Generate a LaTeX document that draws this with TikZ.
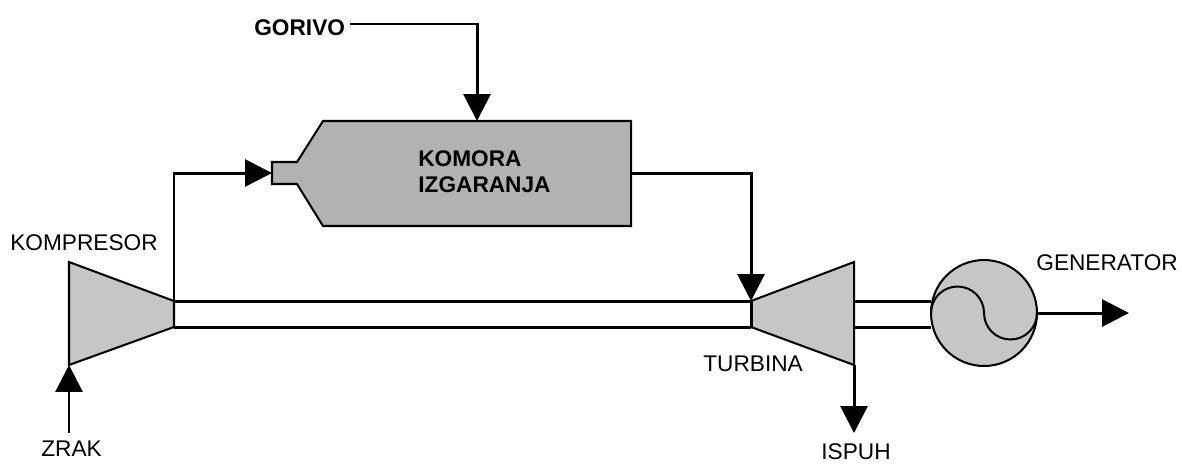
\documentclass[tikz,border=0pt]{standalone}
\usepackage{fontspec}
\setmainfont{Liberation Sans}
\definecolor{chambergray}{RGB}{178, 178, 178}
\definecolor{machinegray}{RGB}{198, 198, 198}
\usetikzlibrary{arrows.meta}
\tikzset{
  pipe/.style={line width=1.7pt, line join=miter},
  flow/.style={pipe, -{Triangle[length=15.3pt, width=15.3pt]}},
  outline/.style={draw, line width=1.15pt, line join=miter},
  label/.style={font=\fontsize{12.9}{12.9}\selectfont, inner sep=0pt, anchor=base west},
  boldlabel/.style={label, font=\fontsize{12.9}{14.8}\selectfont\bfseries}
}

\begin{document}
\begin{tikzpicture}[x=0.02cm, y=-0.02cm]
  \useasboundingbox (0,0) rectangle (1182,464);

  % Points on the machines
  \coordinate (kompIn) at (69,365);
  \coordinate (kompTop) at (174,301);
  \coordinate (kompBot) at (174,327);
  \coordinate (turbTop) at (751,301);
  \coordinate (turbBot) at (751,327);
  \coordinate (turbOutTop) at (854,301);
  \coordinate (turbOutBot) at (854,327);
  \coordinate (turbOut) at (854,365);
  \coordinate (komInlet) at (272,173);
  \coordinate (komOutlet) at (631,173);
  \coordinate (komFuel) at (477,121);

  % Free ends of the connectors
  \coordinate (fuelStart) at (350,24);
  \coordinate (airStart) at (69,433);
  \coordinate (exhaustEnd) at (854,433);
  \coordinate (powerEnd) at (1129,313);

  % Shaft
  \draw[pipe] (kompTop) -- (turbTop);
  \draw[pipe] (kompBot) -- (turbBot);

  % Compressor and turbine
  \draw[outline, fill=machinegray] (69,262) -- (kompTop) -- (kompBot) -- (kompIn) -- cycle;
  \draw[outline, fill=machinegray] (turbTop) -- (854,262) -- (turbOut) -- (turbBot) -- cycle;
  \draw[pipe] (kompTop) -- (kompBot);
  \draw[pipe] (turbTop) -- (turbBot);

  % Combustion chamber
  \draw[outline, fill=chambergray] (272,162) -- (297,162) -- (323,121) -- (631,121)
    -- (631,226) -- (323,226) -- (297,184) -- (272,184) -- cycle;

  % Generator
  \node[circle, outline, fill=machinegray, minimum size=2.12cm, inner sep=0pt, outer sep=0pt] (gen) at (984,313) {};
  \draw[pipe] (turbOutTop) -- (turbOutTop -| gen.west);
  \draw[pipe] (turbOutBot) -- (turbOutBot -| gen.west);
  \draw[outline, fill=none] (gen.west) arc[start angle=180, end angle=0, radius=0.53cm]
    arc[start angle=180, end angle=360, radius=0.53cm];

  % Flows
  \draw[flow] (fuelStart) -| (komFuel);
  \draw[flow] (kompTop) |- (komInlet);
  \draw[flow] (komOutlet) -| (turbTop);
  \draw[flow] (airStart) -- (kompIn);
  \draw[flow] (turbOut) -- (exhaustEnd);
  \draw[flow] (gen.east) -- (powerEnd);

  % Labels
  \node[boldlabel] (gorivo) at (254,35) {GORIVO};
  \node[boldlabel] (komora) at (418,166) {KOMORA};
  \node[boldlabel] (izgaranja) at (418,192) {IZGARANJA};
  \node[label] (kompresor) at (10,250) {KOMPRESOR};
  \node[label] (zrak) at (41,456) {ZRAK};
  \node[label] (turbina) at (703,371) {TURBINA};
  \node[label] (ispuh) at (821,459) {ISPUH};
  \node[label] (generator) at (1036,270) {GENERATOR};
\end{tikzpicture}
\end{document}
